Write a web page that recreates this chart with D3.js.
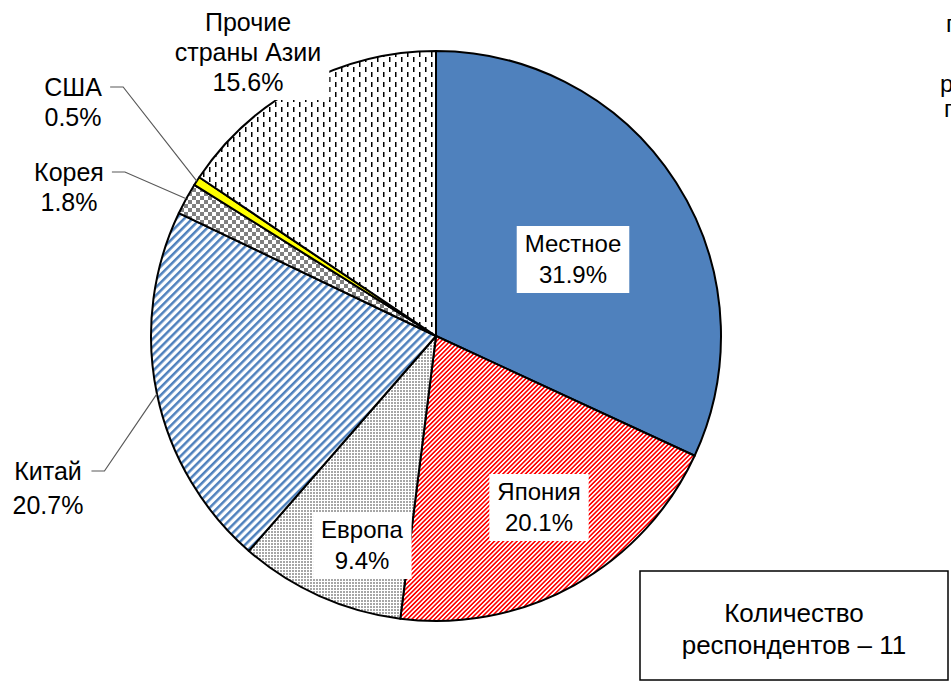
<!DOCTYPE html>
<html>
<head>
<meta charset="utf-8">
<script src="https://cdn.jsdelivr.net/npm/d3@7"></script>
<style>
  body { margin: 0; background: #fff; }
  text { font-family: "Liberation Sans", Arial, sans-serif; }
</style>
</head>
<body>
<svg id="chart" width="951" height="686"></svg>
<script>
// Origin of the products, share of respondents (%)
const categories = ["Местное", "Япония", "Европа", "Китай", "Корея", "США", "Прочие страны Азии"];
const labelLines = [["Местное"], ["Япония"], ["Европа"], ["Китай"], ["Корея"], ["США"], ["Прочие", "страны Азии"]];
const shares = [31.9, 20.1, 9.4, 20.7, 1.8, 0.5, 15.6];
const respondents = 11;
const noteLines = ["Количество", "респондентов – " + respondents];

// Layout
const W = 951, H = 686;
const cx = 436, cy = 336, R = 285;
// label centres; "leader" marks labels placed outside the pie
const labelLayout = [
  { x: 573, y: 244, size: 24, gap: 31 },
  { x: 539, y: 492, size: 24, gap: 31 },
  { x: 362, y: 530, size: 24, gap: 31 },
  { x: 48, y: 471, size: 25, gap: 34, leader: true, box: false },
  { x: 69, y: 172, size: 25, gap: 30, leader: true, box: false },
  { x: 73, y: 87, size: 25, gap: 30, leader: true, box: false },
  { x: 248, y: 22, size: 25, gap: 30, box: true }
];

const svg = d3.select("#chart");
const defs = svg.append("defs");

// Fill patterns
function pattern(id, w, h, transform) {
  const p = defs.append("pattern").attr("id", id)
    .attr("patternUnits", "userSpaceOnUse")
    .attr("width", w).attr("height", h);
  if (transform) p.attr("patternTransform", transform);
  p.append("rect").attr("width", w).attr("height", h).attr("fill", "#fff");
  return p;
}
// red fine diagonal
pattern("pRed", 3.2, 3.2, "rotate(45)")
  .append("rect").attr("width", 1.6).attr("height", 3.2).attr("fill", "#ff0000");
// blue wide diagonal
pattern("pBlue", 5.7, 5.7, "rotate(45)")
  .append("rect").attr("width", 2.5).attr("height", 5.7).attr("fill", "#4f81bd");
// grey dots
pattern("pDots", 3, 3)
  .append("rect").attr("width", 2).attr("height", 2).attr("fill", "#a6a6a6");
// checkerboard
{
  const p = pattern("pCheck", 8, 8);
  p.append("rect").attr("width", 4).attr("height", 4).attr("fill", "#808080");
  p.append("rect").attr("x", 4).attr("y", 4).attr("width", 4).attr("height", 4).attr("fill", "#808080");
}
// vertical dashes
{
  const p = pattern("pDash", 12, 10);
  p.append("rect").attr("x", 1).attr("y", 1).attr("width", 1.5).attr("height", 5).attr("fill", "#000");
  p.append("rect").attr("x", 7).attr("y", 6).attr("width", 1.5).attr("height", 5).attr("fill", "#000");
  p.append("rect").attr("x", 7).attr("y", -4).attr("width", 1.5).attr("height", 5).attr("fill", "#000");
}

const fills = ["#4f81bd", "url(#pRed)", "url(#pDots)", "url(#pBlue)", "url(#pCheck)", "#ffff00", "url(#pDash)"];

const pie = d3.pie().sort(null).value(d => d)(shares);
const arc = d3.arc().innerRadius(0).outerRadius(R);

const g = svg.append("g").attr("transform", `translate(${cx},${cy})`);
g.selectAll("path.slice").data(pie).join("path")
  .attr("class", "slice")
  .attr("d", arc)
  .attr("fill", (d, i) => fills[i])
  .attr("stroke", "#000")
  .attr("stroke-width", 2)
  .attr("stroke-linejoin", "round");

const fmt = d3.format(".1f");

// Data labels
const labels = svg.append("g");
pie.forEach((d, i) => {
  const L = labelLayout[i];
  const lines = labelLines[i].concat([fmt(shares[i]) + "%"]);
  const grp = labels.append("g");
  const bg = grp.append("rect").attr("fill", "#fff");
  const t = grp.append("text")
    .attr("text-anchor", "middle")
    .attr("font-size", L.size)
    .attr("fill", "#000");
  lines.forEach((s, k) => {
    t.append("tspan").attr("x", L.x).attr("y", L.y + k * L.gap).attr("dy", "0.35em").text(s);
  });
  const bb = t.node().getBBox();
  if (L.box !== false) {
    bg.attr("x", bb.x - 8).attr("y", L.y - 18)
      .attr("width", bb.width + 16)
      .attr("height", (lines.length - 1) * L.gap + 36);
  } else {
    bg.remove();
  }
  if (L.leader) {
    const a = (d.startAngle + d.endAngle) / 2;
    const ex = cx + R * Math.sin(a), ey = cy - R * Math.cos(a);
    const sx = bb.x + bb.width + 8;
    labels.append("polyline")
      .attr("points", [[sx, L.y], [sx + 13, L.y], [ex, ey]].map(p => p.join(",")).join(" "))
      .attr("fill", "none")
      .attr("stroke", "#595959")
      .attr("stroke-width", 1.2);
  }
});

// Respondent count note
const note = svg.append("g");
note.append("rect").attr("x", 640).attr("y", 571).attr("width", 308).attr("height", 109)
  .attr("fill", "#fff").attr("stroke", "#000").attr("stroke-width", 1.5);
const nt = note.append("text").attr("text-anchor", "middle").attr("font-size", 26).attr("fill", "#000");
noteLines.forEach((s, k) => {
  nt.append("tspan").attr("x", 794).attr("y", 613 + k * 32).attr("dy", "0.35em").text(s);
});

// Neighbouring caption, cut by the right edge
const side = svg.append("g").attr("font-size", 24).attr("fill", "#000");
side.append("text").attr("x", 946).attr("y", 32).text("п");
side.append("text").attr("x", 940).attr("y", 92).text("р");
side.append("text").attr("x", 944).attr("y", 117).text("п");
</script>
</body>
</html>
